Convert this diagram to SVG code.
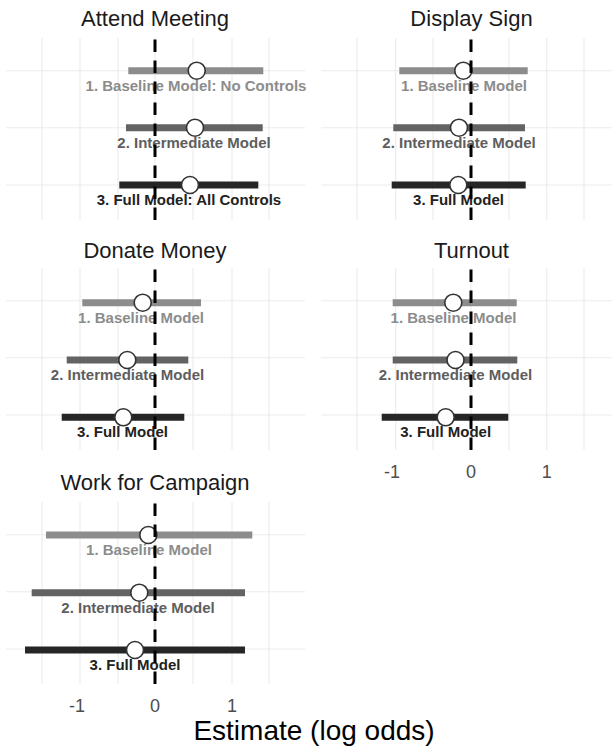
<svg xmlns="http://www.w3.org/2000/svg" width="612" height="751" viewBox="0 0 612 751">
<style>
.grid{stroke:#ebebeb;stroke-width:1.1;fill:none}
.zero{stroke:#000;stroke-width:3;stroke-dasharray:12.5 8.5;fill:none}
.b1{stroke:#8c8c8c;stroke-width:7}
.b2{stroke:#636363;stroke-width:7}
.b3{stroke:#262626;stroke-width:7}
.pt{fill:#fff;stroke:#333;stroke-width:1.6}
text{font-family:"Liberation Sans",Arial,Helvetica,sans-serif}
.title{font-size:22px;fill:#1a1a1a;text-anchor:middle}
.lab{font-size:15px;font-weight:bold;text-anchor:middle}
.l1{fill:#8c8c8c}.l2{fill:#5e5e5e}.l3{fill:#222}
.tick{font-size:18px;fill:#4d4d4d;text-anchor:middle}
.axis{font-size:28px;fill:#000;text-anchor:middle}
</style>
<defs>
<g id="gridL">
<path class="grid" d="M42 0V182M80 0V182M118 0V182M155 0V182M193 0V182M232 0V182M269 0V182M6 32.7H305M6 89.7H305M6 147H305"/>
</g>
<g id="gridR">
<path class="grid" d="M357 0V182M395.7 0V182M433 0V182M471 0V182M509 0V182M546.7 0V182M584 0V182M321 32.7H612M321 89.7H612M321 147H612"/>
</g>
</defs>
<rect width="612" height="751" fill="#fff"/>

<g id="attend-meeting">
<use href="#gridL" y="38"/>
<text class="title" x="155" y="26">Attend Meeting</text>
<line class="b1" x1="128.3" y1="70.7" x2="263.3" y2="70.7"/>
<line class="b2" x1="126" y1="127.7" x2="262.7" y2="127.7"/>
<line class="b3" x1="119.3" y1="185" x2="258.3" y2="185"/>
<circle class="pt" cx="196.7" cy="70.7" r="8.5"/>
<circle class="pt" cx="195" cy="127.7" r="8.5"/>
<circle class="pt" cx="190" cy="185" r="8.5"/>
<text class="lab l1" x="196" y="90.7">1. Baseline Model: No Controls</text>
<text class="lab l2" x="194" y="147.7">2. Intermediate Model</text>
<text class="lab l3" x="189" y="204.5">3. Full Model: All Controls</text>
<path class="zero" d="M155 220V38"/>
</g>

<g id="display-sign">
<use href="#gridR" y="38"/>
<text class="title" x="471.5" y="26">Display Sign</text>
<line class="b1" x1="399.3" y1="70.7" x2="527.7" y2="70.7"/>
<line class="b2" x1="393.3" y1="127.7" x2="525" y2="127.7"/>
<line class="b3" x1="391.7" y1="185" x2="525.7" y2="185"/>
<circle class="pt" cx="463.3" cy="70.7" r="8.5"/>
<circle class="pt" cx="459" cy="127.7" r="8.5"/>
<circle class="pt" cx="458.3" cy="185" r="8.5"/>
<text class="lab l1" x="464" y="90.7">1. Baseline Model</text>
<text class="lab l2" x="459" y="147.7">2. Intermediate Model</text>
<text class="lab l3" x="458.5" y="204.5">3. Full Model</text>
<path class="zero" d="M471 220V38"/>
</g>

<g id="donate-money">
<use href="#gridL" y="268"/>
<text class="title" x="155" y="258">Donate Money</text>
<line class="b1" x1="82.3" y1="302.7" x2="201" y2="302.7"/>
<line class="b2" x1="66.7" y1="360" x2="188.3" y2="360"/>
<line class="b3" x1="61.7" y1="417.3" x2="184.3" y2="417.3"/>
<circle class="pt" cx="142.7" cy="302.7" r="8.5"/>
<circle class="pt" cx="127.3" cy="360" r="8.5"/>
<circle class="pt" cx="123.3" cy="417.3" r="8.5"/>
<text class="lab l1" x="141" y="322.7">1. Baseline Model</text>
<text class="lab l2" x="127.5" y="380">2. Intermediate Model</text>
<text class="lab l3" x="122.5" y="436.8">3. Full Model</text>
<path class="zero" d="M155 450V268"/>
</g>

<g id="turnout">
<use href="#gridR" y="268"/>
<text class="title" x="471.5" y="258">Turnout</text>
<line class="b1" x1="392.7" y1="302.7" x2="516.7" y2="302.7"/>
<line class="b2" x1="392.7" y1="360" x2="517.3" y2="360"/>
<line class="b3" x1="381.7" y1="417.3" x2="508.3" y2="417.3"/>
<circle class="pt" cx="453.3" cy="302.7" r="8.5"/>
<circle class="pt" cx="455.5" cy="360" r="8.5"/>
<circle class="pt" cx="445.7" cy="417.3" r="8.5"/>
<text class="lab l1" x="453.5" y="322.7">1. Baseline Model</text>
<text class="lab l2" x="455.5" y="380">2. Intermediate Model</text>
<text class="lab l3" x="445.7" y="436.8">3. Full Model</text>
<path class="zero" d="M471 450V268"/>
<text class="tick" x="392" y="478">-1</text>
<text class="tick" x="471" y="478">0</text>
<text class="tick" x="546.7" y="478">1</text>
</g>

<g id="work-for-campaign">
<use href="#gridL" y="502"/>
<text class="title" x="155" y="490">Work for Campaign</text>
<line class="b1" x1="46" y1="535" x2="252.3" y2="535"/>
<line class="b2" x1="31.7" y1="592.7" x2="245" y2="592.7"/>
<line class="b3" x1="25" y1="650" x2="245" y2="650"/>
<circle class="pt" cx="148.3" cy="535" r="8.5"/>
<circle class="pt" cx="139.3" cy="592.7" r="8.5"/>
<circle class="pt" cx="135" cy="650" r="8.5"/>
<text class="lab l1" x="149" y="555">1. Baseline Model</text>
<text class="lab l2" x="138" y="612.7">2. Intermediate Model</text>
<text class="lab l3" x="135" y="669.5">3. Full Model</text>
<path class="zero" d="M155 684V502"/>
<text class="tick" x="77" y="712">-1</text>
<text class="tick" x="155" y="712">0</text>
<text class="tick" x="232" y="712">1</text>
</g>

<text class="axis" x="314" y="740">Estimate (log odds)</text>
</svg>
